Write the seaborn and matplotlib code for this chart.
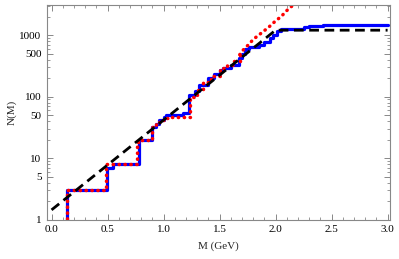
import numpy as np
import pandas as pd
import seaborn as sns
import matplotlib.pyplot as plt
from matplotlib.ticker import FixedLocator, NullFormatter, MultipleLocator

# Espectro acumulado N(M)
masa_azul = [0.0, 0.14, 0.495, 0.55, 0.78, 0.90, 0.93, 0.96, 1.00, 1.02, 1.17, 1.23,
             1.28, 1.32, 1.40, 1.45, 1.50, 1.53, 1.60, 1.67, 1.70, 1.73, 1.76, 1.85,
             1.90, 1.95, 1.98, 2.01, 2.05, 2.25, 2.30, 2.42, 3.0]
n_azul = [0, 3, 7, 8, 20, 32, 36, 42, 47, 50, 54, 105,
          125, 155, 200, 230, 270, 290, 330, 420, 500, 600, 640, 700,
          780, 880, 1000, 1150, 1250, 1350, 1430, 1480, 1480]

masa_roja = [0.0, 0.14, 0.49, 0.76, 0.79, 0.90, 0.93, 0.97, 1.00, 1.05, 1.24,
             1.30, 1.35, 1.42, 1.50, 1.57, 1.62, 1.68]
n_roja = [0, 3, 8, 18, 20, 32, 38, 42, 45, 47, 100,
          130, 175, 220, 290, 330, 380, 480]

# Cola suave de la curva roja
masa_cola = [1.68, 1.72, 1.76, 1.80, 1.85, 1.90, 1.95, 2.00, 2.05, 2.10, 2.15, 2.20]
n_cola = [480, 600, 700, 850, 1000, 1180, 1400, 1700, 2000, 2500, 3000, 3600]

# Ajuste exponencial (linea negra)
masa_ajuste = [0.0, 2.0, 3.0]
n_ajuste = [1.44, 1200, 1200]

sns.set_style("ticks")
plt.rcParams['font.family'] = ['Liberation Serif', 'DejaVu Serif']

fig, ax = plt.subplots(figsize=(3.99, 2.59), dpi=100)
fig.subplots_adjust(left=0.118, right=0.977, bottom=0.152, top=0.981)

punteado = (0, (0.1, 1.6))
sns.lineplot(x=masa_azul, y=n_azul, ax=ax, color=(0, 0, 1), lw=2.3,
             drawstyle='steps-post', estimator=None, sort=False)
sns.lineplot(x=masa_roja, y=n_roja, ax=ax, color=(1, 0, 0), lw=2.5,
             drawstyle='steps-post', estimator=None, sort=False,
             linestyle=punteado, dash_capstyle='round')
sns.lineplot(x=masa_cola, y=n_cola, ax=ax, color=(1, 0, 0), lw=2.5,
             estimator=None, sort=False,
             linestyle=punteado, dash_capstyle='round')
sns.lineplot(x=masa_ajuste, y=n_ajuste, ax=ax, color='black', lw=2.0,
             estimator=None, sort=False, linestyle=(0, (3.5, 2.0)))

ax.set_yscale('log')
ax.set_xlim(-0.04, 3.02)
ax.set_ylim(1, 3090)

ax.set_xticks([0.0, 0.5, 1.0, 1.5, 2.0, 2.5, 3.0])
ax.set_xticklabels(['0.0', '0.5', '1.0', '1.5', '2.0', '2.5', '3.0'])
ax.xaxis.set_minor_locator(MultipleLocator(0.1))

ticks_y = [1, 5, 10, 50, 100, 500, 1000]
ax.yaxis.set_major_locator(FixedLocator(ticks_y))
ax.set_yticklabels([str(t) for t in ticks_y])
menores = [v * d for d in [1, 10, 100, 1000] for v in range(2, 10) if v != 5]
ax.yaxis.set_minor_locator(FixedLocator(menores))
ax.yaxis.set_minor_formatter(NullFormatter())

for s in ax.spines.values():
    s.set_color('#888888')
    s.set_linewidth(0.8)
ax.tick_params(which='both', direction='in', top=True, right=True,
               color='#888888', labelsize=8, labelcolor='black', pad=4)
ax.tick_params(which='major', length=4, width=0.7)
ax.tick_params(which='minor', length=2, width=0.6)

ax.set_xlabel('M (GeV)', fontsize=8, labelpad=5)
ax.set_ylabel('N(M)', fontsize=8, labelpad=2)

fig.savefig('out.png', dpi=100)
